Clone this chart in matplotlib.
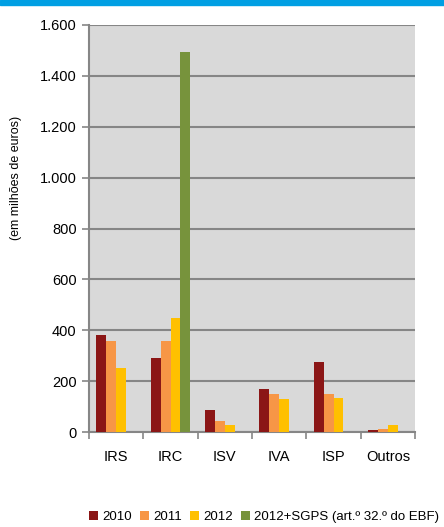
import numpy as np
import matplotlib
matplotlib.use('Agg')
import matplotlib.pyplot as plt
from matplotlib.patches import Rectangle
from matplotlib.ticker import FuncFormatter

categories = ['IRS', 'IRC', 'ISV', 'IVA', 'ISP', 'Outros']
v2010 = [380, 289, 87, 170, 277, 8]
v2011 = [356, 356, 43, 150, 150, 12]
v2012 = [250, 447, 27, 130, 134, 27]
v_sgps = [np.nan, 1495, np.nan, np.nan, np.nan, np.nan]
series_labels = ['2010', '2011', '2012', '2012+SGPS (art.º 32.º do EBF)']
colors = ['#8B1616', '#F79646', '#FFC000', '#77933C']

plt.rcParams['font.family'] = ['Liberation Sans', 'DejaVu Sans']

fig = plt.figure(figsize=(4.44, 5.27), dpi=100)
# blue strip on top
fig.patches.append(Rectangle((0, 1 - 5 / 527), 1, 5 / 527, transform=fig.transFigure,
                             color='#009FE3', zorder=0))

ax = fig.add_axes([89 / 444, 1 - 432 / 527, 326 / 444, 407 / 527])
ax.set_facecolor('#D9D9D9')

x = np.arange(len(categories))
w = 0.183
data = [v2010, v2011, v2012, v_sgps]
for i, (vals, lab, c) in enumerate(zip(data, series_labels, colors)):
    ax.bar(x + (i - 1.5) * w, vals, width=w, color=c, label=lab, zorder=3)

ax.set_xlim(-0.5, len(categories) - 0.5)
ax.set_ylim(0, 1600)
ax.set_yticks(np.arange(0, 1601, 200))
ax.yaxis.set_major_formatter(FuncFormatter(lambda v, p: f'{int(v):,}'.replace(',', '.')))
ax.grid(axis='y', color='#868686', linewidth=1.5, zorder=1)
ax.set_xticks(x)
ax.set_xticklabels(categories)
ax.set_xticks(np.arange(-0.5, len(categories), 1), minor=True)
ax.tick_params(axis='x', which='major', length=0, pad=13, labelsize=10.5)
ax.tick_params(axis='x', which='minor', length=5, width=1.2, color='#868686')
ax.tick_params(axis='y', length=5, width=1.2, color='#868686', labelsize=10.5, pad=4)

for s in ['top', 'right']:
    ax.spines[s].set_visible(False)
for s in ['left', 'bottom']:
    ax.spines[s].set_color('#868686')
    ax.spines[s].set_linewidth(1.5)

fig.text(16 / 444, 1 - 178 / 527, '(em milhões de euros)', rotation=90,
         ha='center', va='center', fontsize=9)

handles, labels = ax.get_legend_handles_labels()
fig.legend(handles, labels, loc='center', bbox_to_anchor=(264 / 444, 1 - 517 / 527),
           ncol=4, frameon=False, fontsize=9.5, handlelength=0.7, handleheight=0.7,
           handletextpad=0.3, columnspacing=0.6)

fig.savefig('out.png', dpi=100)
